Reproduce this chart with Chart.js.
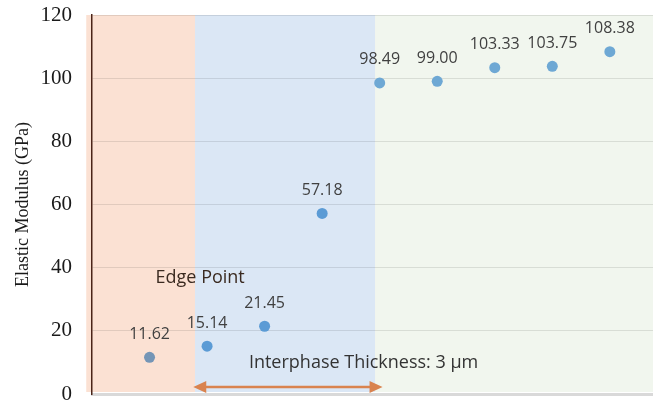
<!DOCTYPE html>
<html>
<head>
<meta charset="utf-8">
<script src="https://cdn.jsdelivr.net/npm/chart.js@4"></script>
<style>
  html, body { margin: 0; padding: 0; background: #fff; }
  #wrap { width: 653px; height: 402px; }
</style>
</head>
<body>
<div id="wrap"><canvas id="chart" width="653" height="402"></canvas></div>
<script>
// data
const positions = [1, 2, 3, 4, 5, 6, 7, 8, 9];
const modulus = [11.62, 15.14, 21.45, 57.18, 98.49, 99.00, 103.33, 103.75, 108.38];
const yTicks = [0, 20, 40, 60, 80, 100, 120];

// shaded zones along x (matrix / interphase / fibre)
const zoneEdges = [-0.1, 1.79, 4.92, 9.75];
const zoneColors = ['#fbe1d3', '#dbe7f5', '#f1f6ee'];
const pointColors = ['#7495b6', '#5b9bd5', '#6ea8d4'];

function zoneIndex(x) {
    for (let i = 0; i < zoneColors.length; i++) {
        if (x < zoneEdges[i + 1]) return i;
    }
    return zoneColors.length - 1;
}

const zonesPlugin = {
    id: 'zones',
    beforeDraw(chart) {
        const { ctx, scales: { x, y } } = chart;
        ctx.save();
        zoneColors.forEach((c, i) => {
            const x0 = x.getPixelForValue(zoneEdges[i]);
            const x1 = x.getPixelForValue(zoneEdges[i + 1]);
            const top = y.getPixelForValue(120);
            const bottom = y.getPixelForValue(0) - 2;
            ctx.fillStyle = c;
            ctx.fillRect(x0, top, x1 - x0, bottom - top);
        });
        ctx.restore();
    }
};

const labelsPlugin = {
    id: 'valueLabels',
    afterDatasetsDraw(chart) {
        const { ctx, scales: { x, y } } = chart;
        ctx.save();
        ctx.font = '16px "Open Sans"';
        ctx.fillStyle = '#404040';
        ctx.textAlign = 'center';
        ctx.textBaseline = 'middle';
        modulus.forEach((v, i) => {
            ctx.fillText(v.toFixed(2), x.getPixelForValue(positions[i]), y.getPixelForValue(v) - 23);
        });

        ctx.font = '18px "Open Sans"';
        ctx.fillStyle = '#3a2a20';
        ctx.fillText('Edge Point', x.getPixelForValue(1.88), y.getPixelForValue(36.7));
        ctx.fillStyle = '#333';
        ctx.fillText('Interphase Thickness: 3 \u00b5m', x.getPixelForValue(4.72), y.getPixelForValue(9.8));

        // double arrow spanning the interphase
        const ax0 = x.getPixelForValue(1.76);
        const ax1 = x.getPixelForValue(5.05);
        const ay = y.getPixelForValue(2.2);
        ctx.strokeStyle = '#d9834f';
        ctx.fillStyle = '#d9834f';
        ctx.lineWidth = 2.5;
        ctx.beginPath();
        ctx.moveTo(ax0 + 8, ay);
        ctx.lineTo(ax1 - 8, ay);
        ctx.stroke();
        ctx.beginPath();
        ctx.moveTo(ax0, ay);
        ctx.lineTo(ax0 + 13, ay - 6);
        ctx.lineTo(ax0 + 13, ay + 6);
        ctx.closePath();
        ctx.fill();
        ctx.beginPath();
        ctx.moveTo(ax1, ay);
        ctx.lineTo(ax1 - 13, ay - 6);
        ctx.lineTo(ax1 - 13, ay + 6);
        ctx.closePath();
        ctx.fill();
        ctx.restore();
    }
};

new Chart(document.getElementById('chart'), {
    type: 'scatter',
    data: {
        datasets: [{
            data: positions.map((p, i) => ({ x: p, y: modulus[i] })),
            pointRadius: 5.5,
            pointHoverRadius: 5.5,
            borderWidth: 0,
            pointBackgroundColor: c => pointColors[zoneIndex(positions[c.dataIndex] ?? 0)]
        }]
    },
    options: {
        responsive: false,
        animation: false,
        events: [],
        layout: { autoPadding: false, padding: { top: 15, right: 0, bottom: 0, left: 0 } },
        plugins: { legend: { display: false }, tooltip: { enabled: false } },
        scales: {
            x: {
                type: 'linear',
                min: 0,
                max: 9.75,
                afterFit: s => { s.height = 8; s.paddingRight = 0; s.paddingLeft = 0; },
                ticks: { display: false },
                grid: { display: false, drawTicks: false },
                border: { display: true, color: '#d9d9d9', width: 3 }
            },
            y: {
                min: 0,
                max: 120,
                afterBuildTicks: s => { s.ticks = yTicks.map(v => ({ value: v })); },
                afterFit: s => { s.width = 92; s.paddingTop = 0; s.paddingBottom = 0; },
                ticks: {
                    padding: 20,
                    color: '#1a1a1a',
                    font: { family: '"Liberation Serif"', size: 21 }
                },
                grid: { color: 'rgba(0,0,0,0.1)', drawTicks: false },
                border: { color: '#4a2418', width: 1.5 },
                title: {
                    display: true,
                    text: 'Elastic Modulus (GPa)',
                    color: '#1a1a1a',
                    font: { family: '"Liberation Serif"', size: 18 },
                    padding: { top: 12, bottom: 0 }
                }
            }
        }
    },
    plugins: [zonesPlugin, labelsPlugin]
});
</script>
</body>
</html>
